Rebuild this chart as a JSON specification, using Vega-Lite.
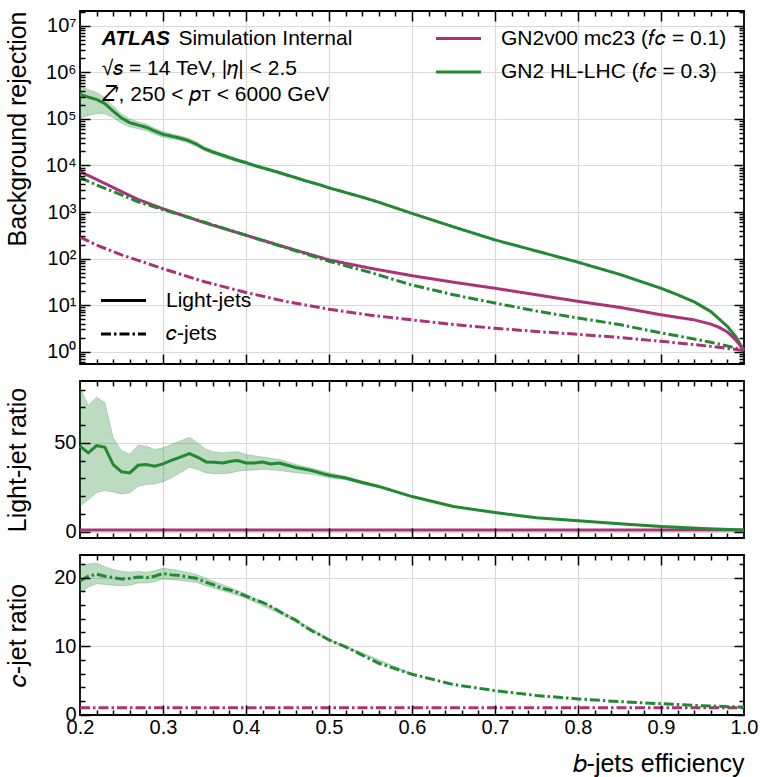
{
  "$schema": "https://vega.github.io/schema/vega-lite/v6.json",
  "padding": {"left": 4, "top": 9, "right": 5, "bottom": 0},
  "spacing": 17,
  "bounds": "flush",
  "datasets": {
    "rej": [
      {"eff":0.20,"model":"GN2 HL-LHC (𝑓𝑐 = 0.3)","flavor":"Light-jets","rej":339000},
      {"eff":0.21,"model":"GN2 HL-LHC (𝑓𝑐 = 0.3)","flavor":"Light-jets","rej":295000},
      {"eff":0.22,"model":"GN2 HL-LHC (𝑓𝑐 = 0.3)","flavor":"Light-jets","rej":263000},
      {"eff":0.23,"model":"GN2 HL-LHC (𝑓𝑐 = 0.3)","flavor":"Light-jets","rej":214000},
      {"eff":0.24,"model":"GN2 HL-LHC (𝑓𝑐 = 0.3)","flavor":"Light-jets","rej":148000},
      {"eff":0.25,"model":"GN2 HL-LHC (𝑓𝑐 = 0.3)","flavor":"Light-jets","rej":105000},
      {"eff":0.26,"model":"GN2 HL-LHC (𝑓𝑐 = 0.3)","flavor":"Light-jets","rej":83200},
      {"eff":0.27,"model":"GN2 HL-LHC (𝑓𝑐 = 0.3)","flavor":"Light-jets","rej":74100},
      {"eff":0.28,"model":"GN2 HL-LHC (𝑓𝑐 = 0.3)","flavor":"Light-jets","rej":66100},
      {"eff":0.29,"model":"GN2 HL-LHC (𝑓𝑐 = 0.3)","flavor":"Light-jets","rej":55000},
      {"eff":0.30,"model":"GN2 HL-LHC (𝑓𝑐 = 0.3)","flavor":"Light-jets","rej":46800},
      {"eff":0.31,"model":"GN2 HL-LHC (𝑓𝑐 = 0.3)","flavor":"Light-jets","rej":42700},
      {"eff":0.32,"model":"GN2 HL-LHC (𝑓𝑐 = 0.3)","flavor":"Light-jets","rej":38900},
      {"eff":0.33,"model":"GN2 HL-LHC (𝑓𝑐 = 0.3)","flavor":"Light-jets","rej":34700},
      {"eff":0.34,"model":"GN2 HL-LHC (𝑓𝑐 = 0.3)","flavor":"Light-jets","rej":28800},
      {"eff":0.35,"model":"GN2 HL-LHC (𝑓𝑐 = 0.3)","flavor":"Light-jets","rej":22900},
      {"eff":0.36,"model":"GN2 HL-LHC (𝑓𝑐 = 0.3)","flavor":"Light-jets","rej":19500},
      {"eff":0.37,"model":"GN2 HL-LHC (𝑓𝑐 = 0.3)","flavor":"Light-jets","rej":17000},
      {"eff":0.38,"model":"GN2 HL-LHC (𝑓𝑐 = 0.3)","flavor":"Light-jets","rej":14800},
      {"eff":0.39,"model":"GN2 HL-LHC (𝑓𝑐 = 0.3)","flavor":"Light-jets","rej":12900},
      {"eff":0.40,"model":"GN2 HL-LHC (𝑓𝑐 = 0.3)","flavor":"Light-jets","rej":11500},
      {"eff":0.41,"model":"GN2 HL-LHC (𝑓𝑐 = 0.3)","flavor":"Light-jets","rej":10000},
      {"eff":0.42,"model":"GN2 HL-LHC (𝑓𝑐 = 0.3)","flavor":"Light-jets","rej":8913},
      {"eff":0.43,"model":"GN2 HL-LHC (𝑓𝑐 = 0.3)","flavor":"Light-jets","rej":7943},
      {"eff":0.44,"model":"GN2 HL-LHC (𝑓𝑐 = 0.3)","flavor":"Light-jets","rej":7079},
      {"eff":0.45,"model":"GN2 HL-LHC (𝑓𝑐 = 0.3)","flavor":"Light-jets","rej":6166},
      {"eff":0.46,"model":"GN2 HL-LHC (𝑓𝑐 = 0.3)","flavor":"Light-jets","rej":5495},
      {"eff":0.47,"model":"GN2 HL-LHC (𝑓𝑐 = 0.3)","flavor":"Light-jets","rej":4786},
      {"eff":0.48,"model":"GN2 HL-LHC (𝑓𝑐 = 0.3)","flavor":"Light-jets","rej":4266},
      {"eff":0.49,"model":"GN2 HL-LHC (𝑓𝑐 = 0.3)","flavor":"Light-jets","rej":3802},
      {"eff":0.50,"model":"GN2 HL-LHC (𝑓𝑐 = 0.3)","flavor":"Light-jets","rej":3311},
      {"eff":0.52,"model":"GN2 HL-LHC (𝑓𝑐 = 0.3)","flavor":"Light-jets","rej":2630},
      {"eff":0.54,"model":"GN2 HL-LHC (𝑓𝑐 = 0.3)","flavor":"Light-jets","rej":2089},
      {"eff":0.56,"model":"GN2 HL-LHC (𝑓𝑐 = 0.3)","flavor":"Light-jets","rej":1622},
      {"eff":0.58,"model":"GN2 HL-LHC (𝑓𝑐 = 0.3)","flavor":"Light-jets","rej":1230},
      {"eff":0.60,"model":"GN2 HL-LHC (𝑓𝑐 = 0.3)","flavor":"Light-jets","rej":933},
      {"eff":0.65,"model":"GN2 HL-LHC (𝑓𝑐 = 0.3)","flavor":"Light-jets","rej":479},
      {"eff":0.70,"model":"GN2 HL-LHC (𝑓𝑐 = 0.3)","flavor":"Light-jets","rej":251},
      {"eff":0.75,"model":"GN2 HL-LHC (𝑓𝑐 = 0.3)","flavor":"Light-jets","rej":145},
      {"eff":0.80,"model":"GN2 HL-LHC (𝑓𝑐 = 0.3)","flavor":"Light-jets","rej":83.2},
      {"eff":0.85,"model":"GN2 HL-LHC (𝑓𝑐 = 0.3)","flavor":"Light-jets","rej":45.7},
      {"eff":0.90,"model":"GN2 HL-LHC (𝑓𝑐 = 0.3)","flavor":"Light-jets","rej":22.9},
      {"eff":0.92,"model":"GN2 HL-LHC (𝑓𝑐 = 0.3)","flavor":"Light-jets","rej":16.6},
      {"eff":0.94,"model":"GN2 HL-LHC (𝑓𝑐 = 0.3)","flavor":"Light-jets","rej":11.7},
      {"eff":0.96,"model":"GN2 HL-LHC (𝑓𝑐 = 0.3)","flavor":"Light-jets","rej":7.24},
      {"eff":0.97,"model":"GN2 HL-LHC (𝑓𝑐 = 0.3)","flavor":"Light-jets","rej":5.01},
      {"eff":0.98,"model":"GN2 HL-LHC (𝑓𝑐 = 0.3)","flavor":"Light-jets","rej":3.47},
      {"eff":0.99,"model":"GN2 HL-LHC (𝑓𝑐 = 0.3)","flavor":"Light-jets","rej":2.09},
      {"eff":1.00,"model":"GN2 HL-LHC (𝑓𝑐 = 0.3)","flavor":"Light-jets","rej":1.05},

      {"eff":0.20,"model":"GN2v00 mc23 (𝑓𝑐 = 0.1)","flavor":"Light-jets","rej":7413},
      {"eff":0.22,"model":"GN2v00 mc23 (𝑓𝑐 = 0.1)","flavor":"Light-jets","rej":5012},
      {"eff":0.25,"model":"GN2v00 mc23 (𝑓𝑐 = 0.1)","flavor":"Light-jets","rej":2754},
      {"eff":0.27,"model":"GN2v00 mc23 (𝑓𝑐 = 0.1)","flavor":"Light-jets","rej":1862},
      {"eff":0.30,"model":"GN2v00 mc23 (𝑓𝑐 = 0.1)","flavor":"Light-jets","rej":1175},
      {"eff":0.35,"model":"GN2v00 mc23 (𝑓𝑐 = 0.1)","flavor":"Light-jets","rej":589},
      {"eff":0.40,"model":"GN2v00 mc23 (𝑓𝑐 = 0.1)","flavor":"Light-jets","rej":316},
      {"eff":0.45,"model":"GN2v00 mc23 (𝑓𝑐 = 0.1)","flavor":"Light-jets","rej":170},
      {"eff":0.50,"model":"GN2v00 mc23 (𝑓𝑐 = 0.1)","flavor":"Light-jets","rej":93.3},
      {"eff":0.55,"model":"GN2v00 mc23 (𝑓𝑐 = 0.1)","flavor":"Light-jets","rej":61.7},
      {"eff":0.60,"model":"GN2v00 mc23 (𝑓𝑐 = 0.1)","flavor":"Light-jets","rej":42.7},
      {"eff":0.65,"model":"GN2v00 mc23 (𝑓𝑐 = 0.1)","flavor":"Light-jets","rej":30.9},
      {"eff":0.70,"model":"GN2v00 mc23 (𝑓𝑐 = 0.1)","flavor":"Light-jets","rej":22.9},
      {"eff":0.75,"model":"GN2v00 mc23 (𝑓𝑐 = 0.1)","flavor":"Light-jets","rej":16.6},
      {"eff":0.80,"model":"GN2v00 mc23 (𝑓𝑐 = 0.1)","flavor":"Light-jets","rej":12.0},
      {"eff":0.85,"model":"GN2v00 mc23 (𝑓𝑐 = 0.1)","flavor":"Light-jets","rej":8.91},
      {"eff":0.90,"model":"GN2v00 mc23 (𝑓𝑐 = 0.1)","flavor":"Light-jets","rej":6.17},
      {"eff":0.94,"model":"GN2v00 mc23 (𝑓𝑐 = 0.1)","flavor":"Light-jets","rej":4.79},
      {"eff":0.96,"model":"GN2v00 mc23 (𝑓𝑐 = 0.1)","flavor":"Light-jets","rej":3.89},
      {"eff":0.97,"model":"GN2v00 mc23 (𝑓𝑐 = 0.1)","flavor":"Light-jets","rej":3.31},
      {"eff":0.98,"model":"GN2v00 mc23 (𝑓𝑐 = 0.1)","flavor":"Light-jets","rej":2.63},
      {"eff":0.99,"model":"GN2v00 mc23 (𝑓𝑐 = 0.1)","flavor":"Light-jets","rej":1.78},
      {"eff":1.00,"model":"GN2v00 mc23 (𝑓𝑐 = 0.1)","flavor":"Light-jets","rej":1.05},

      {"eff":0.20,"model":"GN2 HL-LHC (𝑓𝑐 = 0.3)","flavor":"𝑐-jets","rej":5495},
      {"eff":0.22,"model":"GN2 HL-LHC (𝑓𝑐 = 0.3)","flavor":"𝑐-jets","rej":3802},
      {"eff":0.25,"model":"GN2 HL-LHC (𝑓𝑐 = 0.3)","flavor":"𝑐-jets","rej":2344},
      {"eff":0.27,"model":"GN2 HL-LHC (𝑓𝑐 = 0.3)","flavor":"𝑐-jets","rej":1660},
      {"eff":0.30,"model":"GN2 HL-LHC (𝑓𝑐 = 0.3)","flavor":"𝑐-jets","rej":1122},
      {"eff":0.35,"model":"GN2 HL-LHC (𝑓𝑐 = 0.3)","flavor":"𝑐-jets","rej":603},
      {"eff":0.40,"model":"GN2 HL-LHC (𝑓𝑐 = 0.3)","flavor":"𝑐-jets","rej":316},
      {"eff":0.45,"model":"GN2 HL-LHC (𝑓𝑐 = 0.3)","flavor":"𝑐-jets","rej":166},
      {"eff":0.50,"model":"GN2 HL-LHC (𝑓𝑐 = 0.3)","flavor":"𝑐-jets","rej":87.1},
      {"eff":0.55,"model":"GN2 HL-LHC (𝑓𝑐 = 0.3)","flavor":"𝑐-jets","rej":50.1},
      {"eff":0.60,"model":"GN2 HL-LHC (𝑓𝑐 = 0.3)","flavor":"𝑐-jets","rej":26.9},
      {"eff":0.65,"model":"GN2 HL-LHC (𝑓𝑐 = 0.3)","flavor":"𝑐-jets","rej":16.6},
      {"eff":0.70,"model":"GN2 HL-LHC (𝑓𝑐 = 0.3)","flavor":"𝑐-jets","rej":11.0},
      {"eff":0.75,"model":"GN2 HL-LHC (𝑓𝑐 = 0.3)","flavor":"𝑐-jets","rej":7.41},
      {"eff":0.80,"model":"GN2 HL-LHC (𝑓𝑐 = 0.3)","flavor":"𝑐-jets","rej":5.25},
      {"eff":0.85,"model":"GN2 HL-LHC (𝑓𝑐 = 0.3)","flavor":"𝑐-jets","rej":3.80},
      {"eff":0.90,"model":"GN2 HL-LHC (𝑓𝑐 = 0.3)","flavor":"𝑐-jets","rej":2.51},
      {"eff":0.94,"model":"GN2 HL-LHC (𝑓𝑐 = 0.3)","flavor":"𝑐-jets","rej":1.86},
      {"eff":0.96,"model":"GN2 HL-LHC (𝑓𝑐 = 0.3)","flavor":"𝑐-jets","rej":1.58},
      {"eff":0.98,"model":"GN2 HL-LHC (𝑓𝑐 = 0.3)","flavor":"𝑐-jets","rej":1.32},
      {"eff":1.00,"model":"GN2 HL-LHC (𝑓𝑐 = 0.3)","flavor":"𝑐-jets","rej":1.05},

      {"eff":0.20,"model":"GN2v00 mc23 (𝑓𝑐 = 0.1)","flavor":"𝑐-jets","rej":288},
      {"eff":0.22,"model":"GN2v00 mc23 (𝑓𝑐 = 0.1)","flavor":"𝑐-jets","rej":195},
      {"eff":0.25,"model":"GN2v00 mc23 (𝑓𝑐 = 0.1)","flavor":"𝑐-jets","rej":120},
      {"eff":0.27,"model":"GN2v00 mc23 (𝑓𝑐 = 0.1)","flavor":"𝑐-jets","rej":91.2},
      {"eff":0.30,"model":"GN2v00 mc23 (𝑓𝑐 = 0.1)","flavor":"𝑐-jets","rej":60.3},
      {"eff":0.35,"model":"GN2v00 mc23 (𝑓𝑐 = 0.1)","flavor":"𝑐-jets","rej":31.6},
      {"eff":0.40,"model":"GN2v00 mc23 (𝑓𝑐 = 0.1)","flavor":"𝑐-jets","rej":18.6},
      {"eff":0.45,"model":"GN2v00 mc23 (𝑓𝑐 = 0.1)","flavor":"𝑐-jets","rej":11.7},
      {"eff":0.50,"model":"GN2v00 mc23 (𝑓𝑐 = 0.1)","flavor":"𝑐-jets","rej":8.13},
      {"eff":0.55,"model":"GN2v00 mc23 (𝑓𝑐 = 0.1)","flavor":"𝑐-jets","rej":6.03},
      {"eff":0.60,"model":"GN2v00 mc23 (𝑓𝑐 = 0.1)","flavor":"𝑐-jets","rej":4.79},
      {"eff":0.65,"model":"GN2v00 mc23 (𝑓𝑐 = 0.1)","flavor":"𝑐-jets","rej":3.80},
      {"eff":0.70,"model":"GN2v00 mc23 (𝑓𝑐 = 0.1)","flavor":"𝑐-jets","rej":3.16},
      {"eff":0.75,"model":"GN2v00 mc23 (𝑓𝑐 = 0.1)","flavor":"𝑐-jets","rej":2.69},
      {"eff":0.80,"model":"GN2v00 mc23 (𝑓𝑐 = 0.1)","flavor":"𝑐-jets","rej":2.34},
      {"eff":0.85,"model":"GN2v00 mc23 (𝑓𝑐 = 0.1)","flavor":"𝑐-jets","rej":2.00},
      {"eff":0.90,"model":"GN2v00 mc23 (𝑓𝑐 = 0.1)","flavor":"𝑐-jets","rej":1.66},
      {"eff":0.94,"model":"GN2v00 mc23 (𝑓𝑐 = 0.1)","flavor":"𝑐-jets","rej":1.41},
      {"eff":0.96,"model":"GN2v00 mc23 (𝑓𝑐 = 0.1)","flavor":"𝑐-jets","rej":1.29},
      {"eff":0.98,"model":"GN2v00 mc23 (𝑓𝑐 = 0.1)","flavor":"𝑐-jets","rej":1.17},
      {"eff":1.00,"model":"GN2v00 mc23 (𝑓𝑐 = 0.1)","flavor":"𝑐-jets","rej":1.05}
    ],
    "band": [
      {"eff":0.20,"lo":107000,"hi":513000},
      {"eff":0.21,"lo":117000,"hi":427000},
      {"eff":0.22,"lo":132000,"hi":372000},
      {"eff":0.23,"lo":129000,"hi":288000},
      {"eff":0.24,"lo":107000,"hi":191000},
      {"eff":0.25,"lo":81300,"hi":129000},
      {"eff":0.26,"lo":67600,"hi":100000},
      {"eff":0.27,"lo":61700,"hi":87100},
      {"eff":0.28,"lo":56200,"hi":77600},
      {"eff":0.29,"lo":46800,"hi":63100},
      {"eff":0.30,"lo":40700,"hi":53700},
      {"eff":0.31,"lo":37600,"hi":48400},
      {"eff":0.32,"lo":34700,"hi":43700},
      {"eff":0.33,"lo":30900,"hi":38900},
      {"eff":0.34,"lo":25700,"hi":32400},
      {"eff":0.35,"lo":20700,"hi":25400},
      {"eff":0.36,"lo":17800,"hi":21400},
      {"eff":0.37,"lo":15500,"hi":18600},
      {"eff":0.38,"lo":13500,"hi":16200},
      {"eff":0.40,"lo":10600,"hi":12400},
      {"eff":0.42,"lo":8318,"hi":9550},
      {"eff":0.45,"lo":5750,"hi":6610},
      {"eff":0.50,"lo":3160,"hi":3470},
      {"eff":0.56,"lo":1570,"hi":1680},
      {"eff":0.60,"lo":912,"hi":955}
    ],
    "lratio": [
      {"eff":0.20,"model":"GN2v00 mc23 (𝑓𝑐 = 0.1)","ratio":1},
      {"eff":1.00,"model":"GN2v00 mc23 (𝑓𝑐 = 0.1)","ratio":1},
      {"eff":0.20,"model":"GN2 HL-LHC (𝑓𝑐 = 0.3)","ratio":48.1},
      {"eff":0.21,"model":"GN2 HL-LHC (𝑓𝑐 = 0.3)","ratio":44.4},
      {"eff":0.22,"model":"GN2 HL-LHC (𝑓𝑐 = 0.3)","ratio":48.5},
      {"eff":0.23,"model":"GN2 HL-LHC (𝑓𝑐 = 0.3)","ratio":47.5},
      {"eff":0.24,"model":"GN2 HL-LHC (𝑓𝑐 = 0.3)","ratio":37.8},
      {"eff":0.25,"model":"GN2 HL-LHC (𝑓𝑐 = 0.3)","ratio":33.7},
      {"eff":0.26,"model":"GN2 HL-LHC (𝑓𝑐 = 0.3)","ratio":33.1},
      {"eff":0.27,"model":"GN2 HL-LHC (𝑓𝑐 = 0.3)","ratio":37.4},
      {"eff":0.28,"model":"GN2 HL-LHC (𝑓𝑐 = 0.3)","ratio":37.8},
      {"eff":0.29,"model":"GN2 HL-LHC (𝑓𝑐 = 0.3)","ratio":36.9},
      {"eff":0.30,"model":"GN2 HL-LHC (𝑓𝑐 = 0.3)","ratio":38.2},
      {"eff":0.31,"model":"GN2 HL-LHC (𝑓𝑐 = 0.3)","ratio":40.1},
      {"eff":0.32,"model":"GN2 HL-LHC (𝑓𝑐 = 0.3)","ratio":41.9},
      {"eff":0.332,"model":"GN2 HL-LHC (𝑓𝑐 = 0.3)","ratio":44.0},
      {"eff":0.342,"model":"GN2 HL-LHC (𝑓𝑐 = 0.3)","ratio":41.9},
      {"eff":0.352,"model":"GN2 HL-LHC (𝑓𝑐 = 0.3)","ratio":39.3},
      {"eff":0.362,"model":"GN2 HL-LHC (𝑓𝑐 = 0.3)","ratio":39.1},
      {"eff":0.372,"model":"GN2 HL-LHC (𝑓𝑐 = 0.3)","ratio":38.7},
      {"eff":0.382,"model":"GN2 HL-LHC (𝑓𝑐 = 0.3)","ratio":39.7},
      {"eff":0.39,"model":"GN2 HL-LHC (𝑓𝑐 = 0.3)","ratio":40.1},
      {"eff":0.40,"model":"GN2 HL-LHC (𝑓𝑐 = 0.3)","ratio":38.7},
      {"eff":0.41,"model":"GN2 HL-LHC (𝑓𝑐 = 0.3)","ratio":38.7},
      {"eff":0.42,"model":"GN2 HL-LHC (𝑓𝑐 = 0.3)","ratio":39.2},
      {"eff":0.43,"model":"GN2 HL-LHC (𝑓𝑐 = 0.3)","ratio":38.1},
      {"eff":0.44,"model":"GN2 HL-LHC (𝑓𝑐 = 0.3)","ratio":38.7},
      {"eff":0.45,"model":"GN2 HL-LHC (𝑓𝑐 = 0.3)","ratio":37.4},
      {"eff":0.46,"model":"GN2 HL-LHC (𝑓𝑐 = 0.3)","ratio":36.2},
      {"eff":0.47,"model":"GN2 HL-LHC (𝑓𝑐 = 0.3)","ratio":35.3},
      {"eff":0.48,"model":"GN2 HL-LHC (𝑓𝑐 = 0.3)","ratio":34.3},
      {"eff":0.49,"model":"GN2 HL-LHC (𝑓𝑐 = 0.3)","ratio":33.0},
      {"eff":0.50,"model":"GN2 HL-LHC (𝑓𝑐 = 0.3)","ratio":31.8},
      {"eff":0.52,"model":"GN2 HL-LHC (𝑓𝑐 = 0.3)","ratio":30.2},
      {"eff":0.54,"model":"GN2 HL-LHC (𝑓𝑐 = 0.3)","ratio":27.7},
      {"eff":0.56,"model":"GN2 HL-LHC (𝑓𝑐 = 0.3)","ratio":25.5},
      {"eff":0.60,"model":"GN2 HL-LHC (𝑓𝑐 = 0.3)","ratio":19.8},
      {"eff":0.65,"model":"GN2 HL-LHC (𝑓𝑐 = 0.3)","ratio":14.2},
      {"eff":0.70,"model":"GN2 HL-LHC (𝑓𝑐 = 0.3)","ratio":10.8},
      {"eff":0.75,"model":"GN2 HL-LHC (𝑓𝑐 = 0.3)","ratio":7.9},
      {"eff":0.80,"model":"GN2 HL-LHC (𝑓𝑐 = 0.3)","ratio":6.2},
      {"eff":0.85,"model":"GN2 HL-LHC (𝑓𝑐 = 0.3)","ratio":4.5},
      {"eff":0.90,"model":"GN2 HL-LHC (𝑓𝑐 = 0.3)","ratio":2.9},
      {"eff":0.95,"model":"GN2 HL-LHC (𝑓𝑐 = 0.3)","ratio":1.8},
      {"eff":1.00,"model":"GN2 HL-LHC (𝑓𝑐 = 0.3)","ratio":1.0}
    ],
    "lband": [
      {"eff":0.20,"lo":14.4,"hi":81.0},
      {"eff":0.21,"lo":18.1,"hi":71.2},
      {"eff":0.22,"lo":21.9,"hi":75.7},
      {"eff":0.23,"lo":23.2,"hi":72.5},
      {"eff":0.24,"lo":22.4,"hi":52.8},
      {"eff":0.25,"lo":21.3,"hi":45.7},
      {"eff":0.26,"lo":21.9,"hi":43.5},
      {"eff":0.27,"lo":25.6,"hi":48.7},
      {"eff":0.28,"lo":26.6,"hi":48.1},
      {"eff":0.29,"lo":26.9,"hi":46.3},
      {"eff":0.30,"lo":28.1,"hi":47.2},
      {"eff":0.31,"lo":30.3,"hi":49.1},
      {"eff":0.32,"lo":33.1,"hi":50.9},
      {"eff":0.332,"lo":36.3,"hi":53.2},
      {"eff":0.342,"lo":35.0,"hi":50.0},
      {"eff":0.352,"lo":33.1,"hi":46.3},
      {"eff":0.362,"lo":32.6,"hi":44.9},
      {"eff":0.372,"lo":32.6,"hi":44.4},
      {"eff":0.382,"lo":33.1,"hi":44.9},
      {"eff":0.39,"lo":34.1,"hi":45.0},
      {"eff":0.40,"lo":34.5,"hi":43.5},
      {"eff":0.42,"lo":35.1,"hi":42.0},
      {"eff":0.44,"lo":34.5,"hi":40.7},
      {"eff":0.46,"lo":33.2,"hi":37.9},
      {"eff":0.48,"lo":32.3,"hi":35.7},
      {"eff":0.50,"lo":30.4,"hi":33.2},
      {"eff":0.52,"lo":29.2,"hi":31.2},
      {"eff":0.54,"lo":26.9,"hi":28.5},
      {"eff":0.56,"lo":24.8,"hi":26.2},
      {"eff":0.60,"lo":19.3,"hi":20.3}
    ],
    "cratio": [
      {"eff":0.20,"model":"GN2v00 mc23 (𝑓𝑐 = 0.1)","ratio":1},
      {"eff":1.00,"model":"GN2v00 mc23 (𝑓𝑐 = 0.1)","ratio":1},
      {"eff":0.20,"model":"GN2 HL-LHC (𝑓𝑐 = 0.3)","ratio":19.5},
      {"eff":0.21,"model":"GN2 HL-LHC (𝑓𝑐 = 0.3)","ratio":20.2},
      {"eff":0.22,"model":"GN2 HL-LHC (𝑓𝑐 = 0.3)","ratio":20.5},
      {"eff":0.23,"model":"GN2 HL-LHC (𝑓𝑐 = 0.3)","ratio":20.2},
      {"eff":0.24,"model":"GN2 HL-LHC (𝑓𝑐 = 0.3)","ratio":20.0},
      {"eff":0.25,"model":"GN2 HL-LHC (𝑓𝑐 = 0.3)","ratio":19.8},
      {"eff":0.26,"model":"GN2 HL-LHC (𝑓𝑐 = 0.3)","ratio":19.9},
      {"eff":0.27,"model":"GN2 HL-LHC (𝑓𝑐 = 0.3)","ratio":20.1},
      {"eff":0.28,"model":"GN2 HL-LHC (𝑓𝑐 = 0.3)","ratio":20.0},
      {"eff":0.29,"model":"GN2 HL-LHC (𝑓𝑐 = 0.3)","ratio":20.2},
      {"eff":0.30,"model":"GN2 HL-LHC (𝑓𝑐 = 0.3)","ratio":20.6},
      {"eff":0.31,"model":"GN2 HL-LHC (𝑓𝑐 = 0.3)","ratio":20.4},
      {"eff":0.32,"model":"GN2 HL-LHC (𝑓𝑐 = 0.3)","ratio":20.3},
      {"eff":0.33,"model":"GN2 HL-LHC (𝑓𝑐 = 0.3)","ratio":20.1},
      {"eff":0.34,"model":"GN2 HL-LHC (𝑓𝑐 = 0.3)","ratio":19.9},
      {"eff":0.35,"model":"GN2 HL-LHC (𝑓𝑐 = 0.3)","ratio":19.4},
      {"eff":0.36,"model":"GN2 HL-LHC (𝑓𝑐 = 0.3)","ratio":19.0},
      {"eff":0.37,"model":"GN2 HL-LHC (𝑓𝑐 = 0.3)","ratio":18.5},
      {"eff":0.38,"model":"GN2 HL-LHC (𝑓𝑐 = 0.3)","ratio":18.2},
      {"eff":0.39,"model":"GN2 HL-LHC (𝑓𝑐 = 0.3)","ratio":17.8},
      {"eff":0.40,"model":"GN2 HL-LHC (𝑓𝑐 = 0.3)","ratio":17.3},
      {"eff":0.41,"model":"GN2 HL-LHC (𝑓𝑐 = 0.3)","ratio":16.8},
      {"eff":0.42,"model":"GN2 HL-LHC (𝑓𝑐 = 0.3)","ratio":16.4},
      {"eff":0.43,"model":"GN2 HL-LHC (𝑓𝑐 = 0.3)","ratio":15.8},
      {"eff":0.44,"model":"GN2 HL-LHC (𝑓𝑐 = 0.3)","ratio":15.1},
      {"eff":0.45,"model":"GN2 HL-LHC (𝑓𝑐 = 0.3)","ratio":14.4},
      {"eff":0.46,"model":"GN2 HL-LHC (𝑓𝑐 = 0.3)","ratio":13.8},
      {"eff":0.47,"model":"GN2 HL-LHC (𝑓𝑐 = 0.3)","ratio":12.9},
      {"eff":0.48,"model":"GN2 HL-LHC (𝑓𝑐 = 0.3)","ratio":12.2},
      {"eff":0.49,"model":"GN2 HL-LHC (𝑓𝑐 = 0.3)","ratio":11.6},
      {"eff":0.50,"model":"GN2 HL-LHC (𝑓𝑐 = 0.3)","ratio":10.9},
      {"eff":0.52,"model":"GN2 HL-LHC (𝑓𝑐 = 0.3)","ratio":9.9},
      {"eff":0.54,"model":"GN2 HL-LHC (𝑓𝑐 = 0.3)","ratio":8.7},
      {"eff":0.56,"model":"GN2 HL-LHC (𝑓𝑐 = 0.3)","ratio":7.5},
      {"eff":0.60,"model":"GN2 HL-LHC (𝑓𝑐 = 0.3)","ratio":5.9},
      {"eff":0.65,"model":"GN2 HL-LHC (𝑓𝑐 = 0.3)","ratio":4.4},
      {"eff":0.70,"model":"GN2 HL-LHC (𝑓𝑐 = 0.3)","ratio":3.5},
      {"eff":0.75,"model":"GN2 HL-LHC (𝑓𝑐 = 0.3)","ratio":2.8},
      {"eff":0.80,"model":"GN2 HL-LHC (𝑓𝑐 = 0.3)","ratio":2.3},
      {"eff":0.85,"model":"GN2 HL-LHC (𝑓𝑐 = 0.3)","ratio":1.9},
      {"eff":0.90,"model":"GN2 HL-LHC (𝑓𝑐 = 0.3)","ratio":1.6},
      {"eff":0.95,"model":"GN2 HL-LHC (𝑓𝑐 = 0.3)","ratio":1.3},
      {"eff":1.00,"model":"GN2 HL-LHC (𝑓𝑐 = 0.3)","ratio":1.1}
    ],
    "cband": [
      {"eff":0.20,"lo":17.8,"hi":21.6},
      {"eff":0.21,"lo":18.6,"hi":22.0},
      {"eff":0.22,"lo":19.1,"hi":22.1},
      {"eff":0.23,"lo":19.0,"hi":21.6},
      {"eff":0.24,"lo":18.9,"hi":21.2},
      {"eff":0.25,"lo":18.8,"hi":20.9},
      {"eff":0.26,"lo":18.9,"hi":20.8},
      {"eff":0.27,"lo":19.2,"hi":20.9},
      {"eff":0.28,"lo":19.2,"hi":20.8},
      {"eff":0.29,"lo":19.4,"hi":21.0},
      {"eff":0.30,"lo":19.8,"hi":21.4},
      {"eff":0.32,"lo":19.6,"hi":21.0},
      {"eff":0.34,"lo":19.3,"hi":20.5},
      {"eff":0.36,"lo":18.5,"hi":19.5},
      {"eff":0.38,"lo":17.8,"hi":18.6},
      {"eff":0.40,"lo":17.0,"hi":17.6},
      {"eff":0.45,"lo":14.2,"hi":14.6},
      {"eff":0.50,"lo":10.75,"hi":11.05},
      {"eff":0.60,"lo":5.8,"hi":6.0}
    ],
    "atlas": [{"label": "ATLAS"}],
    "sim": [{"label": "Simulation Internal"}],
    "energy": [{"label": "√𝑠 = 14 TeV, |𝜂| < 2.5"}],
    "sample": [{"label": "𝑍′, 250 < 𝑝ᴛ < 6000 GeV"}]
  },
  "vconcat": [
    {
      "width": 664,
      "height": 353,
      "layer": [
        {
          "data": {"name": "band"},
          "mark": {"type": "area", "color": "#228833", "fillOpacity": 0.3, "stroke": "#228833", "strokeOpacity": 0.25, "strokeWidth": 1},
          "encoding": {
            "x": {"field": "eff", "type": "quantitative", "scale": {"domain": [0.2, 1.0], "nice": false, "zero": false}, "axis": null},
            "y": {"field": "lo", "type": "quantitative", "scale": {"type": "log", "domain": [0.539, 21000000], "nice": false},
                  "axis": {"orient": "left", "values": [1, 10, 100, 1000, 10000, 100000, 1000000, 10000000],
                           "labelExpr": "'10' + ['⁰','¹','²','³','⁴','⁵','⁶','⁷'][round(log(datum.value)/LN10)]",
                           "ticks": false, "grid": false, "title": "Background rejection", "titleAnchor": "end", "titleX": -50, "labelPadding": 4}},
            "y2": {"field": "hi"}
          }
        },
        {
          "data": {"name": "rej"},
          "mark": {"type": "line", "strokeWidth": 3},
          "encoding": {
            "x": {"field": "eff", "type": "quantitative", "scale": {"domain": [0.2, 1.0], "nice": false, "zero": false},
                  "axis": {"orient": "bottom", "values": [0.3, 0.4, 0.5, 0.6, 0.7, 0.8, 0.9], "labels": false, "ticks": false, "grid": true, "title": null}},
            "y": {"field": "rej", "type": "quantitative", "scale": {"type": "log", "domain": [0.539, 21000000], "nice": false},
                  "axis": {"orient": "left", "values": [1, 10, 100, 1000, 10000, 100000, 1000000, 10000000], "labels": false, "ticks": false, "grid": true, "title": null}},
            "color": {"field": "model", "type": "nominal",
                      "scale": {"domain": ["GN2v00 mc23 (𝑓𝑐 = 0.1)", "GN2 HL-LHC (𝑓𝑐 = 0.3)"], "range": ["#AA3377", "#228833"]},
                      "legend": {"title": null, "orient": "none", "legendX": 368, "legendY": 17}},
            "strokeDash": {"field": "flavor", "type": "nominal",
                      "scale": {"domain": ["Light-jets", "𝑐-jets"], "range": [[1, 0], [10, 3, 2.5, 3]]},
                      "legend": {"title": null, "orient": "none", "legendX": 33, "legendY": 279, "symbolStrokeColor": "black"}}
          }
        },
        {
          "data": {"name": "rej"},
          "mark": {"type": "point", "opacity": 0},
          "encoding": {
            "x": {"field": "eff", "type": "quantitative", "scale": {"domain": [0.2, 1.0], "nice": false, "zero": false},
                  "axis": {"orient": "bottom", "values": [0.3, 0.4, 0.5, 0.6, 0.7, 0.8, 0.9], "labels": false, "grid": false, "tickSize": -10, "title": null, "zindex": 1}},
            "y": {"field": "rej", "type": "quantitative", "scale": {"type": "log", "domain": [0.539, 21000000], "nice": false},
                  "axis": {"orient": "left", "values": [1, 10, 100, 1000, 10000, 100000, 1000000, 10000000], "labels": false, "grid": false, "tickSize": -10, "title": null, "zindex": 1}}
          }
        },
        {
          "data": {"name": "rej"},
          "mark": {"type": "point", "opacity": 0},
          "encoding": {
            "x": {"field": "eff", "type": "quantitative", "scale": {"domain": [0.2, 1.0], "nice": false, "zero": false},
                  "axis": {"orient": "bottom", "values": [0.22,0.24,0.26,0.28,0.32,0.34,0.36,0.38,0.42,0.44,0.46,0.48,0.52,0.54,0.56,0.58,0.62,0.64,0.66,0.68,0.72,0.74,0.76,0.78,0.82,0.84,0.86,0.88,0.92,0.94,0.96,0.98], "labels": false, "grid": false, "tickSize": -5, "title": null, "zindex": 1}},
            "y": {"field": "rej", "type": "quantitative", "scale": {"type": "log", "domain": [0.539, 21000000], "nice": false},
                  "axis": {"orient": "left", "values": [0.6,0.7,0.8,0.9,2,3,4,5,6,7,8,9,20,30,40,50,60,70,80,90,200,300,400,500,600,700,800,900,2000,3000,4000,5000,6000,7000,8000,9000,20000,30000,40000,50000,60000,70000,80000,90000,200000,300000,400000,500000,600000,700000,800000,900000,2000000,3000000,4000000,5000000,6000000,7000000,8000000,9000000,20000000], "labels": false, "grid": false, "tickSize": -5, "title": null, "zindex": 1}}
          }
        },
        {
          "data": {"name": "rej"},
          "mark": {"type": "point", "opacity": 0},
          "encoding": {
            "x": {"field": "eff", "type": "quantitative", "scale": {"domain": [0.2, 1.0], "nice": false, "zero": false},
                  "axis": {"orient": "top", "values": [0.3, 0.4, 0.5, 0.6, 0.7, 0.8, 0.9], "labels": false, "grid": false, "tickSize": -10, "title": null, "zindex": 1}},
            "y": {"field": "rej", "type": "quantitative", "scale": {"type": "log", "domain": [0.539, 21000000], "nice": false},
                  "axis": {"orient": "right", "values": [1, 10, 100, 1000, 10000, 100000, 1000000, 10000000], "labels": false, "grid": false, "tickSize": -10, "title": null, "zindex": 1}}
          }
        },
        {
          "data": {"name": "rej"},
          "mark": {"type": "point", "opacity": 0},
          "encoding": {
            "x": {"field": "eff", "type": "quantitative", "scale": {"domain": [0.2, 1.0], "nice": false, "zero": false},
                  "axis": {"orient": "top", "values": [0.22,0.24,0.26,0.28,0.32,0.34,0.36,0.38,0.42,0.44,0.46,0.48,0.52,0.54,0.56,0.58,0.62,0.64,0.66,0.68,0.72,0.74,0.76,0.78,0.82,0.84,0.86,0.88,0.92,0.94,0.96,0.98], "labels": false, "grid": false, "tickSize": -5, "title": null, "zindex": 1}},
            "y": {"field": "rej", "type": "quantitative", "scale": {"type": "log", "domain": [0.539, 21000000], "nice": false},
                  "axis": {"orient": "right", "values": [0.6,0.7,0.8,0.9,2,3,4,5,6,7,8,9,20,30,40,50,60,70,80,90,200,300,400,500,600,700,800,900,2000,3000,4000,5000,6000,7000,8000,9000,20000,30000,40000,50000,60000,70000,80000,90000,200000,300000,400000,500000,600000,700000,800000,900000,2000000,3000000,4000000,5000000,6000000,7000000,8000000,9000000,20000000], "labels": false, "grid": false, "tickSize": -5, "title": null, "zindex": 1}}
          }
        },
        {
          "data": {"name": "atlas"},
          "mark": {"type": "text", "align": "left", "baseline": "alphabetic", "fontSize": 21, "font": "Liberation Sans", "fontStyle": "italic", "fontWeight": "bold", "color": "black"},
          "encoding": {
            "x": {"datum": 0.2261, "type": "quantitative", "axis": null},
            "y": {"datum": 3850000, "type": "quantitative", "axis": null},
            "text": {"field": "label"}
          }
        },
        {
          "data": {"name": "sim"},
          "mark": {"type": "text", "align": "left", "baseline": "alphabetic", "fontSize": 21, "font": "Liberation Sans", "color": "black"},
          "encoding": {
            "x": {"datum": 0.3186, "type": "quantitative", "axis": null},
            "y": {"datum": 3850000, "type": "quantitative", "axis": null},
            "text": {"field": "label"}
          }
        },
        {
          "data": {"name": "energy"},
          "mark": {"type": "text", "align": "left", "baseline": "alphabetic", "fontSize": 21, "font": "Liberation Sans", "color": "black"},
          "encoding": {
            "x": {"datum": 0.2261, "type": "quantitative", "axis": null},
            "y": {"datum": 871000, "type": "quantitative", "axis": null},
            "text": {"field": "label"}
          }
        },
        {
          "data": {"name": "sample"},
          "mark": {"type": "text", "align": "left", "baseline": "alphabetic", "fontSize": 21, "font": "Liberation Sans", "color": "black"},
          "encoding": {
            "x": {"datum": 0.2261, "type": "quantitative", "axis": null},
            "y": {"datum": 244000, "type": "quantitative", "axis": null},
            "text": {"field": "label"}
          }
        }
      ],
      "resolve": {"axis": {"x": "independent", "y": "independent"}}
    },
    {
      "width": 664,
      "height": 157,
      "layer": [
        {
          "data": {"name": "lband"},
          "mark": {"type": "area", "color": "#228833", "fillOpacity": 0.3, "stroke": "#228833", "strokeOpacity": 0.25, "strokeWidth": 1},
          "encoding": {
            "x": {"field": "eff", "type": "quantitative", "scale": {"domain": [0.2, 1.0], "nice": false, "zero": false}, "axis": null},
            "y": {"field": "lo", "type": "quantitative", "scale": {"domain": [-3.5, 84.8], "nice": false, "zero": false},
                  "axis": {"orient": "left", "values": [0, 50], "ticks": false, "grid": false, "title": "Light-jet ratio", "titleX": -50, "labelPadding": 4}},
            "y2": {"field": "hi"}
          }
        },
        {
          "data": {"name": "lratio"},
          "mark": {"type": "line", "strokeWidth": 3},
          "encoding": {
            "x": {"field": "eff", "type": "quantitative", "scale": {"domain": [0.2, 1.0], "nice": false, "zero": false},
                  "axis": {"orient": "bottom", "values": [0.3, 0.4, 0.5, 0.6, 0.7, 0.8, 0.9], "labels": false, "ticks": false, "grid": true, "title": null}},
            "y": {"field": "ratio", "type": "quantitative", "scale": {"domain": [-3.5, 84.8], "nice": false, "zero": false},
                  "axis": {"orient": "left", "values": [0, 50], "labels": false, "ticks": false, "grid": true, "title": null}},
            "color": {"field": "model", "type": "nominal",
                      "scale": {"domain": ["GN2v00 mc23 (𝑓𝑐 = 0.1)", "GN2 HL-LHC (𝑓𝑐 = 0.3)"], "range": ["#AA3377", "#228833"]},
                      "legend": null}
          }
        },
        {
          "data": {"name": "lratio"},
          "mark": {"type": "point", "opacity": 0},
          "encoding": {
            "x": {"field": "eff", "type": "quantitative", "scale": {"domain": [0.2, 1.0], "nice": false, "zero": false},
                  "axis": {"orient": "bottom", "values": [0.3, 0.4, 0.5, 0.6, 0.7, 0.8, 0.9], "labels": false, "grid": false, "tickSize": -10, "title": null, "zindex": 1}},
            "y": {"field": "ratio", "type": "quantitative", "scale": {"domain": [-3.5, 84.8], "nice": false, "zero": false},
                  "axis": {"orient": "left", "values": [0, 50], "labels": false, "grid": false, "tickSize": -10, "title": null, "zindex": 1}}
          }
        },
        {
          "data": {"name": "lratio"},
          "mark": {"type": "point", "opacity": 0},
          "encoding": {
            "x": {"field": "eff", "type": "quantitative", "scale": {"domain": [0.2, 1.0], "nice": false, "zero": false},
                  "axis": {"orient": "bottom", "values": [0.22,0.24,0.26,0.28,0.32,0.34,0.36,0.38,0.42,0.44,0.46,0.48,0.52,0.54,0.56,0.58,0.62,0.64,0.66,0.68,0.72,0.74,0.76,0.78,0.82,0.84,0.86,0.88,0.92,0.94,0.96,0.98], "labels": false, "grid": false, "tickSize": -5, "title": null, "zindex": 1}},
            "y": {"field": "ratio", "type": "quantitative", "scale": {"domain": [-3.5, 84.8], "nice": false, "zero": false},
                  "axis": {"orient": "left", "values": [10, 20, 30, 40, 60, 70, 80], "labels": false, "grid": false, "tickSize": -5, "title": null, "zindex": 1}}
          }
        },
        {
          "data": {"name": "lratio"},
          "mark": {"type": "point", "opacity": 0},
          "encoding": {
            "x": {"field": "eff", "type": "quantitative", "scale": {"domain": [0.2, 1.0], "nice": false, "zero": false},
                  "axis": {"orient": "top", "values": [0.3, 0.4, 0.5, 0.6, 0.7, 0.8, 0.9], "labels": false, "grid": false, "tickSize": -10, "title": null, "zindex": 1}},
            "y": {"field": "ratio", "type": "quantitative", "scale": {"domain": [-3.5, 84.8], "nice": false, "zero": false},
                  "axis": {"orient": "right", "values": [0, 50], "labels": false, "grid": false, "tickSize": -10, "title": null, "zindex": 1}}
          }
        },
        {
          "data": {"name": "lratio"},
          "mark": {"type": "point", "opacity": 0},
          "encoding": {
            "x": {"field": "eff", "type": "quantitative", "scale": {"domain": [0.2, 1.0], "nice": false, "zero": false},
                  "axis": {"orient": "top", "values": [0.22,0.24,0.26,0.28,0.32,0.34,0.36,0.38,0.42,0.44,0.46,0.48,0.52,0.54,0.56,0.58,0.62,0.64,0.66,0.68,0.72,0.74,0.76,0.78,0.82,0.84,0.86,0.88,0.92,0.94,0.96,0.98], "labels": false, "grid": false, "tickSize": -5, "title": null, "zindex": 1}},
            "y": {"field": "ratio", "type": "quantitative", "scale": {"domain": [-3.5, 84.8], "nice": false, "zero": false},
                  "axis": {"orient": "right", "values": [10, 20, 30, 40, 60, 70, 80], "labels": false, "grid": false, "tickSize": -5, "title": null, "zindex": 1}}
          }
        }
      ],
      "resolve": {"axis": {"x": "independent", "y": "independent"}}
    },
    {
      "width": 664,
      "height": 160,
      "layer": [
        {
          "data": {"name": "cband"},
          "mark": {"type": "area", "color": "#228833", "fillOpacity": 0.3, "stroke": "#228833", "strokeOpacity": 0.25, "strokeWidth": 1},
          "encoding": {
            "x": {"field": "eff", "type": "quantitative", "scale": {"domain": [0.2, 1.0], "nice": false, "zero": false},
                  "axis": {"orient": "bottom", "values": [0.2, 0.3, 0.4, 0.5, 0.6, 0.7, 0.8, 0.9, 1.0], "format": ".1f", "labelFlush": false, "ticks": false, "grid": false,
                           "title": "𝑏-jets efficiency", "titleAnchor": "end", "titleBaseline": "middle", "titleY": 48, "labelPadding": 2}},
            "y": {"field": "lo", "type": "quantitative", "scale": {"domain": [-0.05, 23.3], "nice": false, "zero": false},
                  "axis": {"orient": "left", "values": [0, 10, 20], "ticks": false, "grid": false, "title": "𝑐-jet ratio", "titleX": -50, "labelPadding": 4}},
            "y2": {"field": "hi"}
          }
        },
        {
          "data": {"name": "cratio"},
          "mark": {"type": "line", "strokeWidth": 3, "strokeDash": [10, 3, 2.5, 3]},
          "encoding": {
            "x": {"field": "eff", "type": "quantitative", "scale": {"domain": [0.2, 1.0], "nice": false, "zero": false},
                  "axis": {"orient": "bottom", "values": [0.3, 0.4, 0.5, 0.6, 0.7, 0.8, 0.9], "labels": false, "ticks": false, "grid": true, "title": null}},
            "y": {"field": "ratio", "type": "quantitative", "scale": {"domain": [-0.05, 23.3], "nice": false, "zero": false},
                  "axis": {"orient": "left", "values": [10, 20], "labels": false, "ticks": false, "grid": true, "title": null}},
            "color": {"field": "model", "type": "nominal",
                      "scale": {"domain": ["GN2v00 mc23 (𝑓𝑐 = 0.1)", "GN2 HL-LHC (𝑓𝑐 = 0.3)"], "range": ["#AA3377", "#228833"]},
                      "legend": null}
          }
        },
        {
          "data": {"name": "cratio"},
          "mark": {"type": "point", "opacity": 0},
          "encoding": {
            "x": {"field": "eff", "type": "quantitative", "scale": {"domain": [0.2, 1.0], "nice": false, "zero": false},
                  "axis": {"orient": "bottom", "values": [0.3, 0.4, 0.5, 0.6, 0.7, 0.8, 0.9], "labels": false, "grid": false, "tickSize": -10, "title": null, "zindex": 1}},
            "y": {"field": "ratio", "type": "quantitative", "scale": {"domain": [-0.05, 23.3], "nice": false, "zero": false},
                  "axis": {"orient": "left", "values": [0, 10, 20], "labels": false, "grid": false, "tickSize": -10, "title": null, "zindex": 1}}
          }
        },
        {
          "data": {"name": "cratio"},
          "mark": {"type": "point", "opacity": 0},
          "encoding": {
            "x": {"field": "eff", "type": "quantitative", "scale": {"domain": [0.2, 1.0], "nice": false, "zero": false},
                  "axis": {"orient": "bottom", "values": [0.22,0.24,0.26,0.28,0.32,0.34,0.36,0.38,0.42,0.44,0.46,0.48,0.52,0.54,0.56,0.58,0.62,0.64,0.66,0.68,0.72,0.74,0.76,0.78,0.82,0.84,0.86,0.88,0.92,0.94,0.96,0.98], "labels": false, "grid": false, "tickSize": -5, "title": null, "zindex": 1}},
            "y": {"field": "ratio", "type": "quantitative", "scale": {"domain": [-0.05, 23.3], "nice": false, "zero": false},
                  "axis": {"orient": "left", "values": [2, 4, 6, 8, 12, 14, 16, 18, 22], "labels": false, "grid": false, "tickSize": -5, "title": null, "zindex": 1}}
          }
        },
        {
          "data": {"name": "cratio"},
          "mark": {"type": "point", "opacity": 0},
          "encoding": {
            "x": {"field": "eff", "type": "quantitative", "scale": {"domain": [0.2, 1.0], "nice": false, "zero": false},
                  "axis": {"orient": "top", "values": [0.3, 0.4, 0.5, 0.6, 0.7, 0.8, 0.9], "labels": false, "grid": false, "tickSize": -10, "title": null, "zindex": 1}},
            "y": {"field": "ratio", "type": "quantitative", "scale": {"domain": [-0.05, 23.3], "nice": false, "zero": false},
                  "axis": {"orient": "right", "values": [0, 10, 20], "labels": false, "grid": false, "tickSize": -10, "title": null, "zindex": 1}}
          }
        },
        {
          "data": {"name": "cratio"},
          "mark": {"type": "point", "opacity": 0},
          "encoding": {
            "x": {"field": "eff", "type": "quantitative", "scale": {"domain": [0.2, 1.0], "nice": false, "zero": false},
                  "axis": {"orient": "top", "values": [0.22,0.24,0.26,0.28,0.32,0.34,0.36,0.38,0.42,0.44,0.46,0.48,0.52,0.54,0.56,0.58,0.62,0.64,0.66,0.68,0.72,0.74,0.76,0.78,0.82,0.84,0.86,0.88,0.92,0.94,0.96,0.98], "labels": false, "grid": false, "tickSize": -5, "title": null, "zindex": 1}},
            "y": {"field": "ratio", "type": "quantitative", "scale": {"domain": [-0.05, 23.3], "nice": false, "zero": false},
                  "axis": {"orient": "right", "values": [2, 4, 6, 8, 12, 14, 16, 18, 22], "labels": false, "grid": false, "tickSize": -5, "title": null, "zindex": 1}}
          }
        }
      ],
      "resolve": {"axis": {"x": "independent", "y": "independent"}}
    }
  ],
  "resolve": {"legend": {"color": "independent", "strokeDash": "independent"}},
  "config": {
    "font": "Liberation Sans",
    "view": {"stroke": "black", "strokeWidth": 1.8},
    "axis": {
      "domain": false,
      "labelFont": "Liberation Sans", "labelFontSize": 20, "labelColor": "black",
      "titleFont": "Liberation Sans", "titleFontSize": 25, "titleFontWeight": "normal", "titleColor": "black",
      "tickColor": "black", "tickWidth": 1.5,
      "gridColor": "#d9d9d9", "gridWidth": 1.2,
      "labelFlush": false
    },
    "legend": {
      "labelFont": "Liberation Sans", "labelFontSize": 21, "labelColor": "black", "labelLimit": 600,
      "symbolType": "M-3,0H3", "symbolSize": 225, "symbolStrokeWidth": 3.2,
      "labelOffset": 32, "rowPadding": 11.5, "padding": 0
    }
  }
}
